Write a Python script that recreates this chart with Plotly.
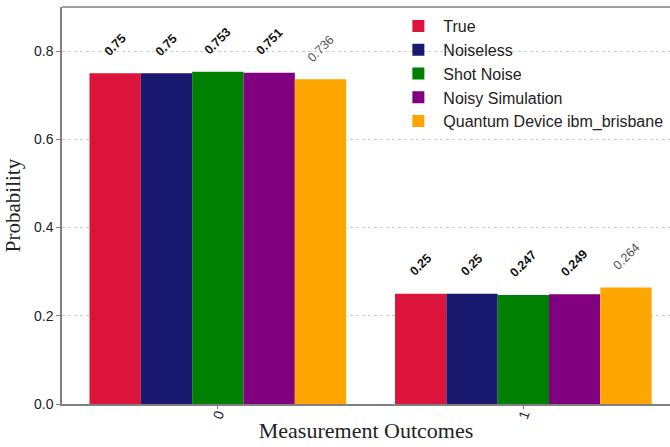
import plotly.graph_objects as go

outcomes = ["0", "1"]
series_names = ["True", "Noiseless", "Shot Noise", "Noisy Simulation", "Quantum Device ibm_brisbane"]
values_true = [0.75, 0.25]
values_noiseless = [0.75, 0.25]
values_shot = [0.753, 0.247]
values_noisy = [0.751, 0.249]
values_device = [0.736, 0.264]
label_text = [["0.75", "0.25"], ["0.75", "0.25"], ["0.753", "0.247"], ["0.751", "0.249"], ["0.736", "0.264"]]
colors = ["#DC143C", "#191970", "#008000", "#800080", "#FFA500"]

all_values = [values_true, values_noiseless, values_shot, values_noisy, values_device]
x_pos = list(range(len(outcomes)))
bargap = 0.16
n = len(all_values)
bw = (1 - bargap) / n

fig = go.Figure()
annotations = []
for j, (name, vals, col) in enumerate(zip(series_names, all_values, colors)):
    fig.add_trace(go.Bar(x=x_pos, y=vals, name=name, marker=dict(color=col, line=dict(width=0))))
    last = j == n - 1
    for i, v in enumerate(vals):
        annotations.append(dict(
            x=x_pos[i] + (j - (n - 1) / 2) * bw, y=v, xref="x", yref="y",
            text=(label_text[j][i] if last else "<b>" + label_text[j][i] + "</b>"),
            showarrow=False, textangle=-45, yanchor="bottom", xanchor="center",
            yshift=12,
            font=dict(family="Liberation Sans, Arial, sans-serif", size=12.5,
                      color="#555555" if last else "#111111"),
        ))

fig.update_layout(
    width=670, height=447,
    margin=dict(l=62, r=0, t=7, b=43),
    paper_bgcolor="white", plot_bgcolor="white",
    barmode="group", bargap=bargap, bargroupgap=0,
    font=dict(family="Liberation Sans, Arial, sans-serif", size=14, color="#222222"),
    annotations=annotations,
    showlegend=True,
    legend=dict(x=0.545, y=0.995, xanchor="left", yanchor="top",
                bgcolor="rgba(0,0,0,0)", borderwidth=0, itemwidth=40,
                font=dict(size=16, color="#222222"), tracegroupgap=0),
)
fig.update_xaxes(
    tickmode="array", tickvals=x_pos, ticktext=outcomes, tickangle=-70,
    range=[-0.51, 1.48], showgrid=False, zeroline=False, automargin=False,
    showline=True, linecolor="#808080", linewidth=1.5, mirror=False,
    ticks="outside", ticklen=3, tickcolor="#808080", ticklabelstandoff=-8,
    title=dict(text="Measurement Outcomes", standoff=2,
               font=dict(family="Liberation Serif, Times New Roman, serif", size=22, color="#222222")),
    tickfont=dict(size=14),
)
fig.update_yaxes(
    range=[0, 0.9], tickvals=[0, 0.2, 0.4, 0.6, 0.8], ticktext=["0.0", "0.2", "0.4", "0.6", "0.8"],
    showgrid=True, gridcolor="#cccccc", griddash="dot", gridwidth=1, zeroline=False, automargin=False,
    showline=True, linecolor="#808080", linewidth=1.5, mirror=False,
    ticks="outside", ticklen=4, tickcolor="#808080",
    title=dict(text="Probability", standoff=8,
               font=dict(family="Liberation Serif, Times New Roman, serif", size=21, color="#222222")),
    tickfont=dict(size=14),
)
# top spine
fig.add_shape(type="line", xref="paper", yref="paper", x0=0, x1=1, y0=1, y1=1,
              line=dict(color="#808080", width=1.5))

fig.write_html("out.html")
